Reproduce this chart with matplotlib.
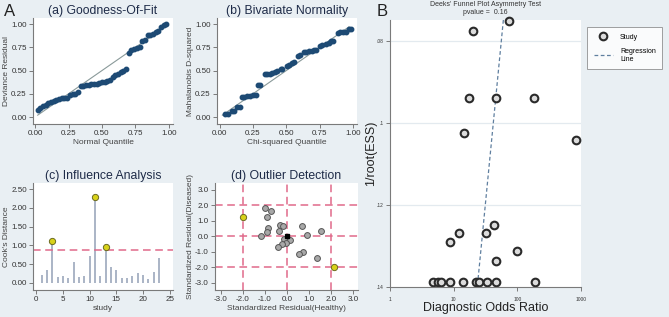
import matplotlib
matplotlib.use("Agg")
import matplotlib.pyplot as plt
import numpy as np
from matplotlib.lines import Line2D

plt.rcParams['font.family'] = ['Liberation Sans Narrow', 'Liberation Sans', 'DejaVu Sans']

# (a) goodness of fit
gof_x = [0.02, 0.04, 0.06, 0.08, 0.10, 0.12, 0.14, 0.16, 0.18, 0.20, 0.22, 0.24, 0.26, 0.28, 0.30,
         0.32, 0.34, 0.36, 0.38, 0.40, 0.42, 0.44, 0.46, 0.48, 0.50, 0.52, 0.54, 0.56, 0.58, 0.60,
         0.62, 0.64, 0.66, 0.68, 0.70, 0.72, 0.74, 0.76, 0.78, 0.80, 0.82, 0.84, 0.86, 0.88, 0.90,
         0.92, 0.94, 0.96, 0.98]
gof_y = [0.08, 0.10, 0.12, 0.13, 0.15, 0.16, 0.17, 0.18, 0.19, 0.20, 0.21, 0.21, 0.24, 0.25, 0.25,
         0.27, 0.33, 0.33, 0.34, 0.34, 0.35, 0.35, 0.36, 0.37, 0.38, 0.38, 0.39, 0.40, 0.43, 0.45,
         0.46, 0.48, 0.49, 0.52, 0.69, 0.72, 0.73, 0.74, 0.75, 0.82, 0.83, 0.88, 0.88, 0.89, 0.91,
         0.93, 0.97, 0.99, 1.00]

# (b) bivariate normality
bvn_x = [0.04, 0.06, 0.09, 0.11, 0.13, 0.15, 0.165, 0.185, 0.205, 0.225, 0.25, 0.27, 0.29, 0.30,
         0.34, 0.355, 0.375, 0.395, 0.415, 0.43, 0.46, 0.47, 0.505, 0.52, 0.545, 0.56, 0.59, 0.60,
         0.63, 0.65, 0.67, 0.69, 0.71, 0.725, 0.755, 0.77, 0.80, 0.82, 0.835, 0.85, 0.885, 0.905,
         0.925, 0.945, 0.97, 0.985]
bvn_y = [0.03, 0.03, 0.065, 0.065, 0.11, 0.11, 0.22, 0.22, 0.225, 0.23, 0.235, 0.235, 0.34, 0.34,
         0.46, 0.46, 0.46, 0.47, 0.48, 0.49, 0.52, 0.52, 0.55, 0.56, 0.58, 0.59, 0.66, 0.67,
         0.70, 0.70, 0.71, 0.71, 0.72, 0.72, 0.76, 0.77, 0.79, 0.80, 0.82, 0.82, 0.90, 0.91,
         0.91, 0.91, 0.95, 0.95]

# (c) influence analysis
study = list(range(1, 24))
cooks = [0.20, 0.33, 1.11, 0.16, 0.18, 0.12, 0.56, 0.15, 0.18, 0.71, 2.30, 0.18, 0.96, 0.43,
         0.34, 0.12, 0.12, 0.17, 0.27, 0.21, 0.11, 0.30, 0.66]
cooks_cut = 0.87

# (d) outlier detection
res_healthy = [-1.00, -0.74, -0.92, -0.84, -0.92, -1.19, -0.33, -0.18, -0.36, -0.12, 0.12, -0.06,
               -0.24, -0.39, 0.68, 0.92, 1.56, 0.74, 0.53, 1.36]
res_diseased = [1.78, 1.60, 1.20, 0.49, 0.28, 0.00, 0.70, 0.66, 0.32, -0.21, -0.26, -0.43,
                -0.54, -0.73, 0.66, 0.06, 0.32, -1.00, -1.16, -1.43]
out_healthy = [-2.0, 2.15]
out_diseased = [1.2, -1.97]

# B: Deeks' funnel plot
dor = [20.3, 74.8, 17.5, 46.7, 185, 14.6, 849, 8.8, 12.2, 32.5, 43.4, 100, 46.7,
       4.75, 5.7, 6.35, 8.8, 14.1, 22.6, 25.2, 33.7, 46.7, 192]
inv_sqrt_ess = [0.0776, 0.0753, 0.0939, 0.0939, 0.0939, 0.1024, 0.1041, 0.1290, 0.1269, 0.1269,
                0.1249, 0.1313, 0.1337, 0.1387, 0.1387, 0.1387, 0.1387, 0.1387, 0.1387, 0.1387,
                0.1387, 0.1387, 0.1387]
reg_intercept = 2.253   # log10(DOR) at 1/root(ESS) = 0
reg_slope = -6.3

W, H = 669, 317
bg = '#e9eff3'
navy = '#1d4a74'
title_c = '#1e2b48'
axis_c = '#7a7a7a'
pink = '#e0698a'

fig = plt.figure(figsize=(W / 100, H / 100), dpi=100, facecolor=bg)


def px_axes(x0, y0, x1, y1):
    return fig.add_axes([x0 / W, 1 - y1 / H, (x1 - x0) / W, (y1 - y0) / H])


def stata_style(ax, fs=5.8):
    ax.set_facecolor('white')
    for s in ['top', 'right']:
        ax.spines[s].set_visible(False)
    for s in ['left', 'bottom']:
        ax.spines[s].set_color(axis_c)
        ax.spines[s].set_linewidth(0.8)
    ax.tick_params(direction='out', length=3, width=0.7, color=axis_c,
                   labelsize=fs, labelcolor='#333333', pad=1.5)


lab_kw = dict(fontsize=6, color='#444444')

# (a)
ax = px_axes(33, 18, 173, 124)
stata_style(ax)
ax.plot([0.02, 0.98], [0.02, 0.98], color='#8a9a9a', lw=0.8)
ax.plot(gof_x, gof_y, 'o', color=navy, ms=3.2, mec=navy)
ax.set_xlim(-0.015, 1.03)
ax.set_ylim(-0.075, 1.065)
ax.set_xticks([0, 0.25, 0.5, 0.75, 1.0])
ax.set_yticks([0, 0.25, 0.5, 0.75, 1.0])
ax.xaxis.set_major_formatter(matplotlib.ticker.FormatStrFormatter('%.2f'))
ax.yaxis.set_major_formatter(matplotlib.ticker.FormatStrFormatter('%.2f'))
ax.set_title('(a) Goodness-Of-Fit', fontsize=8.8, color=title_c, pad=3)
ax.set_xlabel('Normal Quantile', labelpad=1, **lab_kw)
ax.set_ylabel('Deviance Residual', labelpad=1, **lab_kw)

# (b)
ax = px_axes(217, 18, 357, 124)
stata_style(ax)
ax.plot([0.02, 0.97], [0.02, 0.97], color='#8a9a9a', lw=0.8)
ax.plot(bvn_x, bvn_y, 'o', color=navy, ms=3.2, mec=navy)
ax.set_xlim(-0.02, 1.03)
ax.set_ylim(-0.075, 1.065)
ax.set_xticks([0, 0.25, 0.5, 0.75, 1.0])
ax.set_yticks([0, 0.25, 0.5, 0.75, 1.0])
ax.xaxis.set_major_formatter(matplotlib.ticker.FormatStrFormatter('%.2f'))
ax.yaxis.set_major_formatter(matplotlib.ticker.FormatStrFormatter('%.2f'))
ax.set_title('(b) Bivariate Normality', fontsize=8.8, color=title_c, pad=3)
ax.set_xlabel('Chi-squared Quantile', labelpad=1, **lab_kw)
ax.set_ylabel('Mahalanobis D-squared', labelpad=1, **lab_kw)

# (c)
ax = px_axes(33, 183, 173, 290)
stata_style(ax)
ax.vlines(study, 0, cooks, color='#aab4c6', lw=1.4)
ax.axhline(cooks_cut, color=pink, lw=1.1, ls=(0, (5, 3)))
big = [(s, c) for s, c in zip(study, cooks) if c > cooks_cut]
ax.plot([b[0] for b in big], [b[1] for b in big], 'o', ms=4.5, mfc='#d8d21a', mec='#6b6a20', mew=0.7)
ax.set_xlim(-0.6, 25.6)
ax.set_ylim(-0.19, 2.66)
ax.set_xticks([0, 5, 10, 15, 20, 25])
ax.set_yticks([0, 0.5, 1.0, 1.5, 2.0, 2.5])
ax.yaxis.set_major_formatter(matplotlib.ticker.FormatStrFormatter('%.2f'))
ax.set_title('(c) Influence Analysis', fontsize=8.8, color=title_c, pad=3)
ax.set_xlabel('study', labelpad=1, **lab_kw)
ax.set_ylabel("Cook's Distance", labelpad=1, **lab_kw)

# (d)
ax = px_axes(215, 183, 358, 290)
stata_style(ax)
for v in [-2, 0, 2]:
    ax.axvline(v, color=pink, lw=1.1, ls=(0, (5, 3)))
    ax.axhline(v, color=pink, lw=1.1, ls=(0, (5, 3)))
ax.plot(res_healthy, res_diseased, 'o', ms=4.2, mfc='#a8a8a8', mec='#555555', mew=0.7)
ax.plot([0], [0], 's', ms=3, color='black')
ax.plot(out_healthy, out_diseased, 'o', ms=4.5, mfc='#d8d21a', mec='#6b6a20', mew=0.7)
ax.set_xlim(-3.27, 3.23)
ax.set_ylim(-3.48, 3.42)
ax.set_xticks([-3, -2, -1, 0, 1, 2, 3])
ax.set_yticks([-3, -2, -1, 0, 1, 2, 3])
ax.xaxis.set_major_formatter(matplotlib.ticker.FormatStrFormatter('%.1f'))
ax.yaxis.set_major_formatter(matplotlib.ticker.FormatStrFormatter('%.1f'))
ax.set_title('(d) Outlier Detection', fontsize=8.8, color=title_c, pad=3)
ax.set_xlabel('Standardized Residual(Healthy)', labelpad=1, **lab_kw)
ax.set_ylabel('Standardized Residual(Diseased)', labelpad=1, **lab_kw)

fig.text(4 / W, 1 - 12 / H, 'A', fontsize=12, color='#222222', va='center')

# B funnel plot
ax = px_axes(390, 20, 581, 287)
stata_style(ax, fs=3.5)
ax.set_xscale('log')
ax.set_xlim(1, 1000)
ax.set_ylim(0.14, 0.075)
ax.set_yticks([0.08, 0.10, 0.12, 0.14])
ax.set_yticklabels(['.08', '.1', '.12', '.14'])
ax.set_xticks([1, 10, 100, 1000])
ax.set_xticklabels(['1', '10', '100', '1000'])
ax.minorticks_off()
ax.tick_params(axis='x', pad=4)
for v in [0.08, 0.10, 0.12]:
    ax.axhline(v, color='#e3eaef', lw=0.9, zorder=0)
yy = np.array([0.075, 0.14])
ax.plot(10 ** (reg_intercept + reg_slope * yy), yy, color='#5f7f9f', lw=0.9, ls=(0, (3, 2)))
ax.plot(dor, inv_sqrt_ess, 'o', ms=5.5, mfc='#dcdcdc', mec='#2a2a2a', mew=1.5, clip_on=False)
ax.set_xlabel('Diagnostic Odds Ratio', fontsize=9, color='#222222', labelpad=0.5)
ax.set_ylabel('1/root(ESS)', fontsize=9, color='#222222')
ax.yaxis.set_label_coords(-0.07, 0.5)
ax.set_title("Deeks' Funnel Plot Asymmetry Test\npvalue =  0.16", fontsize=5, color='#333333',
             pad=4, linespacing=1.3)

handles = [Line2D([], [], ls='none', marker='o', ms=5.5, mfc='#dcdcdc', mec='#2a2a2a', mew=1.5),
           Line2D([], [], color='#5f7f9f', lw=0.9, ls=(0, (3, 2)))]
leg = fig.legend(handles, ['Study', 'Regression\nLine'], loc='upper left',
                 bbox_to_anchor=(584 / W, 1 - 24 / H), fontsize=5, frameon=True,
                 fancybox=False, edgecolor='#888888', handlelength=2.8, borderpad=0.9,
                 labelspacing=1.0, handletextpad=1.0)
leg.get_frame().set_linewidth(0.7)

fig.text(377 / W, 1 - 12 / H, 'B', fontsize=12, color='#222222', va='center')

fig.savefig('out.png', dpi=100, facecolor=bg)
